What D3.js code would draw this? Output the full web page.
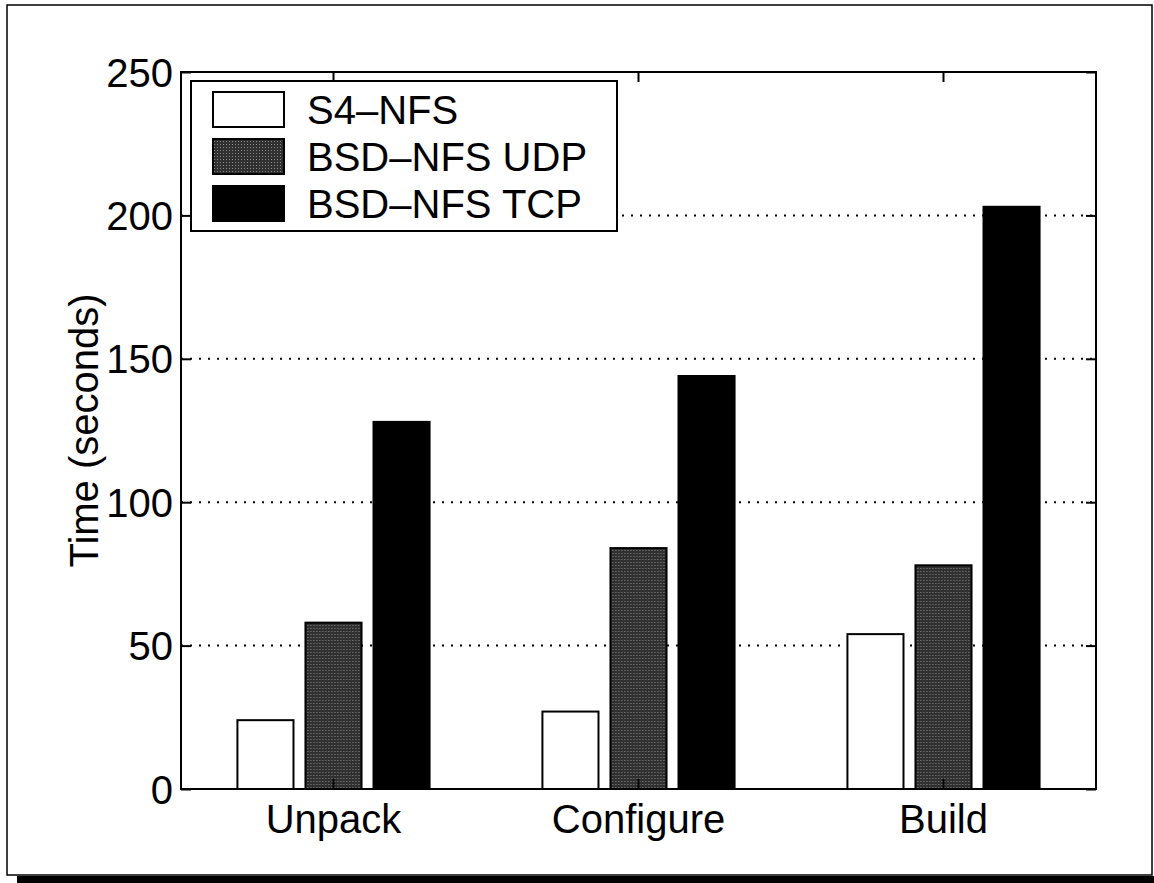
<!DOCTYPE html>
<html>
<head>
<meta charset="utf-8">
<script src="https://cdn.jsdelivr.net/npm/d3@7"></script>
<style>
  html, body { margin: 0; padding: 0; background: #fff; }
  svg { display: block; }
  text { font-family: "Liberation Sans", Arial, Helvetica, sans-serif; fill: #000; }
</style>
</head>
<body>
<script>
const categories = ["Unpack", "Configure", "Build"];
const seriesNames = ["S4\u2013NFS", "BSD\u2013NFS UDP", "BSD\u2013NFS TCP"];
const s4nfs = [24, 27, 54];
const bsdUdp = [58, 84, 78];
const bsdTcp = [128, 144, 203];
const yTicks = [0, 50, 100, 150, 200, 250];
const gridValues = [50, 100, 150, 200];
const yLabel = "Time (seconds)";

const seriesValues = [s4nfs, bsdUdp, bsdTcp];
const W = 1154, H = 883;
const margin = { left: 181, right: 1096, top: 72, bottom: 789 };

const svg = d3.select("body").append("svg").attr("width", W).attr("height", H);
const defs = svg.append("defs");
const pat = defs.append("pattern").attr("id", "stipple").attr("patternUnits", "userSpaceOnUse")
  .attr("width", 3).attr("height", 3);
pat.append("rect").attr("width", 3).attr("height", 3).attr("fill", "#303030");
pat.append("rect").attr("x", 1).attr("y", 1).attr("width", 1).attr("height", 1).attr("fill", "#8a8a8a");

const fills = ["#ffffff", "url(#stipple)", "#000000"];

// outer frame with shadow
svg.append("rect").attr("x", 7).attr("y", 5).attr("width", 1145).attr("height", 870)
  .attr("fill", "none").attr("stroke", "#000").attr("stroke-width", 1.5);
svg.append("rect").attr("x", 17).attr("y", 876).attr("width", W - 17).attr("height", 7).attr("fill", "#000");

const y = d3.scaleLinear().domain([0, 250]).range([margin.bottom, margin.top]);
const x0 = d3.scaleBand().domain(categories).range([margin.left, margin.right])
  .paddingInner(0.37).paddingOuter(0.185);
const x1 = d3.scaleBand().domain(d3.range(seriesNames.length)).range([0, x0.bandwidth()])
  .paddingInner(0.176).paddingOuter(0);

// grid
svg.append("g").selectAll("line").data(gridValues).join("line")
  .attr("x1", margin.left).attr("x2", margin.right)
  .attr("y1", d => y(d)).attr("y2", d => y(d))
  .attr("stroke", "#000").attr("stroke-width", 2).attr("stroke-dasharray", "2,7");

// bars
const groups = svg.append("g").selectAll("g").data(categories).join("g")
  .attr("transform", d => `translate(${x0(d)},0)`);
groups.selectAll("rect").data((c, ci) => seriesValues.map((s, si) => ({ si, v: s[ci] }))).join("rect")
  .attr("x", d => x1(d.si)).attr("width", x1.bandwidth())
  .attr("y", d => y(d.v)).attr("height", d => y(0) - y(d.v))
  .attr("fill", d => fills[d.si]).attr("stroke", "#000").attr("stroke-width", 2);

// axes
const tickLen = 10;
const axL = svg.append("g").attr("transform", `translate(${margin.left},0)`)
  .call(d3.axisLeft(y).tickValues(yTicks).tickSizeInner(-tickLen).tickSizeOuter(0).tickPadding(8));
const axR = svg.append("g").attr("transform", `translate(${margin.right},0)`)
  .call(d3.axisRight(y).tickValues(yTicks).tickSizeInner(-tickLen).tickSizeOuter(0).tickFormat(""));
const axB = svg.append("g").attr("transform", `translate(0,${margin.bottom})`)
  .call(d3.axisBottom(x0).tickSizeInner(-tickLen).tickSizeOuter(0).tickPadding(16));
const axT = svg.append("g").attr("transform", `translate(0,${margin.top})`)
  .call(d3.axisTop(x0).tickSizeInner(-tickLen).tickSizeOuter(0).tickFormat(""));
[axL, axR, axB, axT].forEach(a => {
  a.select(".domain").remove();
  a.selectAll("line").attr("stroke", "#000").attr("stroke-width", 2);
  a.selectAll("text").attr("font-size", 40).attr("font-family", "Liberation Sans, Arial, sans-serif").attr("fill", "#000");
});
axL.selectAll("text").attr("dy", "0.35em");
axB.selectAll("text").attr("dy", "0.71em");

// plot box
svg.append("rect").attr("x", margin.left).attr("y", margin.top)
  .attr("width", margin.right - margin.left).attr("height", margin.bottom - margin.top)
  .attr("fill", "none").attr("stroke", "#000").attr("stroke-width", 2);

// y label
svg.append("text").attr("transform", `translate(98,${(margin.top + margin.bottom) / 2}) rotate(-90)`)
  .attr("text-anchor", "middle").attr("font-size", 40).text(yLabel);

// legend
const leg = svg.append("g");
leg.append("rect").attr("x", 191).attr("y", 81).attr("width", 426).attr("height", 150)
  .attr("fill", "#fff").attr("stroke", "#000").attr("stroke-width", 2);
const rows = leg.selectAll("g").data(seriesNames).join("g")
  .attr("transform", (d, i) => `translate(0,${i * 47})`);
rows.append("rect").attr("x", 213).attr("y", 92).attr("width", 71).attr("height", 35)
  .attr("fill", (d, i) => fills[i]).attr("stroke", "#000").attr("stroke-width", 2);
rows.append("text").attr("x", 307).attr("y", 124).attr("font-size", 40).text(d => d);
</script>
</body>
</html>
